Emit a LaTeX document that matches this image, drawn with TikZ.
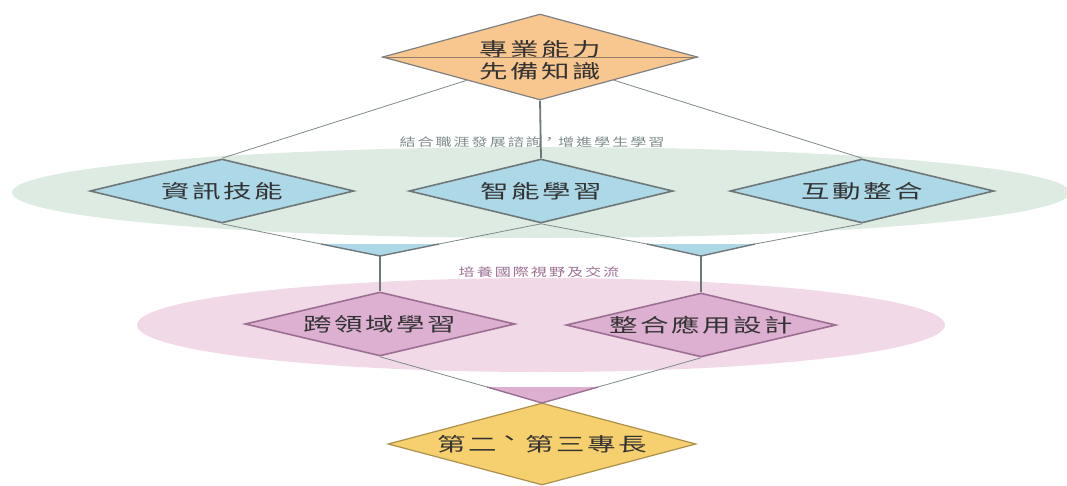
\documentclass[tikz,border=0pt]{standalone}
\usepackage{fontspec}
\usetikzlibrary{shapes.geometric}
\newfontfamily\cjk[FakeStretch=1.5,LetterSpace=13]{Noto Sans CJK TC}
\newfontfamily\cjksmall[FakeStretch=1.4,LetterSpace=17]{Noto Sans CJK TC}
\newcommand\tcmark[1]{\raisebox{0.28em}{\kern-0.05em#1\kern0.05em}}
\definecolor{peach}{HTML}{F8C68F}
\definecolor{skyfill}{HTML}{ADD8E7}
\definecolor{pinkfill}{HTML}{DDB0D2}
\definecolor{goldfill}{HTML}{F6CF6E}
\definecolor{greenband}{HTML}{DDEBE2}
\definecolor{pinkband}{HTML}{F2D9E8}
\definecolor{linegray}{HTML}{7E8A8A}
\definecolor{darkgray}{HTML}{6F7878}
\definecolor{pinkline}{HTML}{9B6F92}
\tikzset{main node/.style={diamond,draw,inner sep=0pt,line width=1.6pt,text=black!80,
            font=\cjk\fontsize{19}{22}\selectfont,align=center},
         top node/.style={main node,fill=peach,draw=gray,line width=1.2pt,aspect=3.66,minimum width=315pt,minimum height=86pt},
         blue node/.style={main node,fill=skyfill,draw=darkgray,aspect=4.125,minimum width=264pt,minimum height=64pt},
         pink node/.style={main node,fill=pinkfill,draw=pinkline,aspect=4.22,minimum width=270pt,minimum height=64pt},
         gold node/.style={main node,fill=goldfill,draw=goldfill!70!black,line width=1.2pt,aspect=3.76,minimum width=308pt,minimum height=82pt},
         band label/.style={font=\cjksmall\fontsize{11.5}{13}\selectfont},
            }

\begin{document}
\begin{tikzpicture}[x=1pt,y=-1pt]
    \useasboundingbox (0,0) rectangle (1067,485);

    \fill[greenband] (541,192.5) ellipse [x radius=529, y radius=45.5];
    \fill[pinkband] (541,325) ellipse [x radius=404, y radius=47];

    \node[band label,text=linegray] (careerlabel) at (532,142) {結合職涯發展諮詢\tcmark{，}增進學生學習};
    \node[band label,text=pinkline] (globallabel) at (539,272) {培養國際視野及交流};

    \node[top node] (top) at (540,57) {};
    \node[font=\cjk\fontsize{19}{22}\selectfont,text=black!80,align=center] (toplabel) at (540,60) {專業能力\\先備知識};
    \node[blue node] (info) at (222,191) {資訊技能};
    \node[blue node] (smart) at (541,191) {智能學習};
    \node[blue node] (inter) at (862,191) {互動整合};
    \node[pink node] (cross) at (380,324) {跨領域學習};
    \node[pink node] (apply) at (701,325) {整合應用設計};
    \node[gold node] (spec) at (542,444) {第二\tcmark{、}第三專長};

    \draw[gray!70!brown,line width=0.8pt] (top.west) -- (top.east);

    % merge triangles
    \coordinate (m1a) at (321,244);
    \coordinate (m1b) at (439,244);
    \coordinate (m1c) at (380,256);
    \coordinate (m2a) at (647,244);
    \coordinate (m2b) at (755,244);
    \coordinate (m2c) at (701,256);
    \coordinate (m3a) at (487,387);
    \coordinate (m3b) at (598,387);
    \coordinate (m3c) at (542,403);

    \fill[skyfill] (m1a) -- (m1b) -- (m1c) -- cycle;
    \fill[skyfill] (m2a) -- (m2b) -- (m2c) -- cycle;
    \fill[pinkfill] (m3a) -- (m3b) -- (m3c) -- cycle;
    \draw[darkgray,line width=1.4pt] (m1a) -- (m1c) -- (m1b);
    \draw[darkgray,line width=1.4pt] (m2a) -- (m2c) -- (m2b);
    \draw[pinkline,line width=1.4pt] (m3a) -- (m3c) -- (m3b);

    \path[draw,linegray,line width=0.8pt]
    (info.north) edge (top)
    (inter.north) edge (top)
    (info.south) edge (m1a)
    (smart.south) edge (m1b)
    (smart.south) edge (m2a)
    (inter.south) edge (m2b)
    (cross.south) edge (m3a)
    (apply.south) edge (m3b);

    \path[draw,darkgray,line width=1.8pt]
    (top.south) edge (smart.north)
    (m1c) edge (cross.north)
    (m2c) edge (apply.north);
\end{tikzpicture}
\end{document}
